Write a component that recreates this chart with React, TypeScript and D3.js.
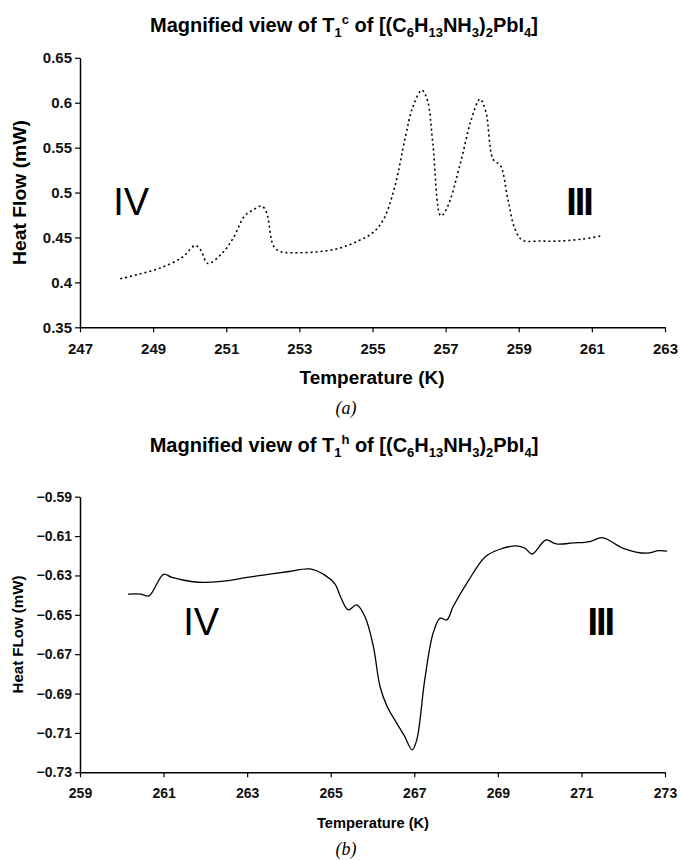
import React, { useRef, useEffect } from "react";
import * as d3 from "d3";

// panel (a): cooling run, dotted trace
const tempA = [248.1, 248.6, 249.2, 249.8, 250.15, 250.3, 250.5, 250.9, 251.2, 251.5, 251.75, 251.97, 252.1, 252.3, 252.5, 252.8, 253.5, 254.1, 254.6, 255.0, 255.3, 255.6, 255.9, 256.1, 256.35, 256.5, 256.65, 256.87, 257.05, 257.4, 257.7, 257.94, 258.1, 258.3, 258.5, 258.7, 258.9, 259.1, 259.6, 260.1, 260.7, 261.3];
const flowA = [0.404, 0.409, 0.416, 0.428, 0.441, 0.436, 0.421, 0.433, 0.45, 0.474, 0.481, 0.485, 0.478, 0.44, 0.434, 0.433, 0.434, 0.438, 0.446, 0.455, 0.47, 0.505, 0.562, 0.595, 0.614, 0.603, 0.555, 0.474, 0.484, 0.532, 0.581, 0.604, 0.59, 0.537, 0.53, 0.493, 0.459, 0.447, 0.446, 0.446, 0.448, 0.452];
const xTicksA = [247, 249, 251, 253, 255, 257, 259, 261, 263];
const yTicksA = [0.35, 0.4, 0.45, 0.5, 0.55, 0.6, 0.65];

// panel (b): heating run, solid trace
const tempB = [260.15, 260.45, 260.65, 261.0, 261.2, 261.7, 262.0, 262.5, 263.0, 263.5, 264.0, 264.5, 264.85, 265.1, 265.25, 265.42, 265.62, 265.82, 266.02, 266.18, 266.35, 266.55, 266.75, 266.95, 267.06, 267.25, 267.45, 267.62, 267.78, 267.93, 268.3, 268.7, 269.05, 269.45, 269.65, 269.82, 270.15, 270.4, 270.8, 271.2, 271.5, 272.0, 272.55, 272.85, 273.05];
const flowB = [-0.6395, -0.6395, -0.6404, -0.6294, -0.631, -0.6332, -0.6335, -0.6328, -0.631, -0.6295, -0.628, -0.6267, -0.6297, -0.6343, -0.6416, -0.6475, -0.645, -0.651, -0.666, -0.6864, -0.6966, -0.704, -0.711, -0.7186, -0.7135, -0.683, -0.6594, -0.6517, -0.6526, -0.6458, -0.6325, -0.6205, -0.6167, -0.615, -0.6162, -0.6191, -0.612, -0.614, -0.6135, -0.6128, -0.6108, -0.6162, -0.6187, -0.6174, -0.6176];
const xTicksB = [259, 261, 263, 265, 267, 269, 271, 273];
const yTicksB = [-0.73, -0.71, -0.69, -0.67, -0.65, -0.63, -0.61, -0.59];

const FONT = "'Liberation Sans', Arial, sans-serif";

const Panel = (props) => {
    const ref = useRef(null);
    const { top, bottom, left, right } = props.box;

    useEffect(() => {
        const g = d3.select(ref.current);
        g.selectAll("*").remove();

        const x = d3.scaleLinear().domain(props.xDomain).range([left, right]);
        const y = d3.scaleLinear().domain(props.yDomain).range([bottom, top]);

        // x axis
        const xa = g.append("g").attr("transform", `translate(0, ${bottom})`)
            .call(d3.axisBottom(x).tickValues(props.xTicks).tickSize(5).tickSizeOuter(0).tickFormat(d3.format("d")));
        xa.select(".domain").attr("stroke", "#000").attr("stroke-width", 1.5);
        xa.selectAll(".tick line").attr("stroke", "#000").attr("stroke-width", 1.2);
        xa.selectAll(".tick text")
            .attr("font-family", FONT).attr("font-weight", "bold").attr("font-size", props.tickSize)
            .attr("dy", props.xTickDy).attr("fill", "#111");

        // y axis
        const ya = g.append("g").attr("transform", `translate(${left}, 0)`)
            .call(d3.axisLeft(y).tickValues(props.yTicks).tickSize(5).tickSizeOuter(0).tickFormat(props.yFormat));
        ya.select(".domain").attr("stroke", "#000").attr("stroke-width", 1.5);
        ya.selectAll(".tick line").attr("stroke", "#000").attr("stroke-width", 1.2);
        ya.selectAll(".tick text")
            .attr("font-family", FONT).attr("font-weight", "bold").attr("font-size", props.tickSize)
            .attr("fill", "#111");

        // data trace
        const line = d3.line()
            .x((d, i) => x(props.temps[i]))
            .y((d) => y(d))
            .curve(d3.curveCatmullRom.alpha(0.5));

        g.append("path")
            .datum(props.flows)
            .attr("d", line)
            .attr("fill", "none")
            .attr("stroke", "#000")
            .attr("stroke-width", props.dotted ? 1.6 : 1.3)
            .attr("stroke-dasharray", props.dotted ? "2,3" : null);

        // phase labels
        props.phases.forEach((p) => {
            g.append("text")
                .attr("x", x(p.t)).attr("y", y(p.v))
                .attr("text-anchor", "middle")
                .attr("font-family", FONT)
                .attr("font-size", 38)
                .attr("font-weight", p.bold ? "bold" : "normal")
                .attr("letter-spacing", p.bold ? -2 : 0)
                .text(p.label);
        });
    }, []);

    const cx = (left + right) / 2;
    const cy = (top + bottom) / 2;

    return (
        <g>
            <g ref={ref}></g>
            <text x={props.yTitleX} y={cy} transform={`rotate(-90, ${props.yTitleX}, ${cy})`}
                textAnchor="middle" fontFamily={FONT} fontWeight="bold" fontSize={props.axisTitleSize}
                textLength={props.yTitleLen} lengthAdjust="spacingAndGlyphs">
                {props.yTitle}
            </text>
            <text x={props.xTitleX} y={props.xTitleY} textAnchor="middle" fontFamily={FONT}
                fontWeight="bold" fontSize={props.axisTitleSize}
                textLength={props.xTitleLen} lengthAdjust="spacingAndGlyphs">
                Temperature (K)
            </text>
            <text x={344} y={props.titleY} textAnchor="middle" fontFamily={FONT}
                fontWeight="bold" fontSize={20}>
                Magnified view of T
                <tspan dy={5} fontSize={13}>1</tspan>
                <tspan dy={-13} fontSize={13}>{props.sup}</tspan>
                <tspan dy={8}> of [(C</tspan>
                <tspan dy={5} fontSize={13}>6</tspan>
                <tspan dy={-5}>H</tspan>
                <tspan dy={5} fontSize={13}>13</tspan>
                <tspan dy={-5}>NH</tspan>
                <tspan dy={5} fontSize={13}>3</tspan>
                <tspan dy={-5}>)</tspan>
                <tspan dy={5} fontSize={13}>2</tspan>
                <tspan dy={-5}>PbI</tspan>
                <tspan dy={5} fontSize={13}>4</tspan>
                <tspan dy={-5}>]</tspan>
            </text>
            <text x={346} y={props.capY} textAnchor="middle" fontFamily="'Liberation Serif', 'Times New Roman', serif"
                fontStyle="italic" fontSize={18}>
                ({props.cap})
            </text>
        </g>
    );
};

const App = () => {
    return (
        <svg width={680} height={860} style={{ position: "absolute", left: 0, top: 0, background: "#fff" }}>
            <Panel
                box={{ top: 57.8, bottom: 327.3, left: 80, right: 665 }}
                xDomain={[247, 263]} yDomain={[0.35, 0.65]}
                xTicks={xTicksA} yTicks={yTicksA} yFormat={d3.format("")}
                temps={tempA} flows={flowA} dotted={true}
                phases={[{ label: "IV", t: 248.4, v: 0.475 }, { label: "III", t: 260.65, v: 0.475, bold: true }]}
                tickSize={15} xTickDy="1.25em" axisTitleSize={18}
                yTitle="Heat Flow (mW)" yTitleX={26} yTitleLen={145}
                xTitleX={372} xTitleY={384} xTitleLen={145}
                titleY={32} sup="c" cap="a" capY={414}
            />
            <Panel
                box={{ top: 496.7, bottom: 772.3, left: 80, right: 665 }}
                xDomain={[259, 273]} yDomain={[-0.73, -0.59]}
                xTicks={xTicksB} yTicks={yTicksB} yFormat={d3.format(".2f")}
                temps={tempB} flows={flowB} dotted={false}
                phases={[{ label: "IV", t: 261.9, v: -0.6605 }, { label: "III", t: 271.45, v: -0.6605, bold: true }]}
                tickSize={14} xTickDy="1.3em" axisTitleSize={14}
                yTitle="Heat FLow (mW)" yTitleX={23} yTitleLen={118}
                xTitleX={373} xTitleY={828} xTitleLen={112}
                titleY={452} sup="h" cap="b" capY={855}
            />
        </svg>
    );
};

export default App;
